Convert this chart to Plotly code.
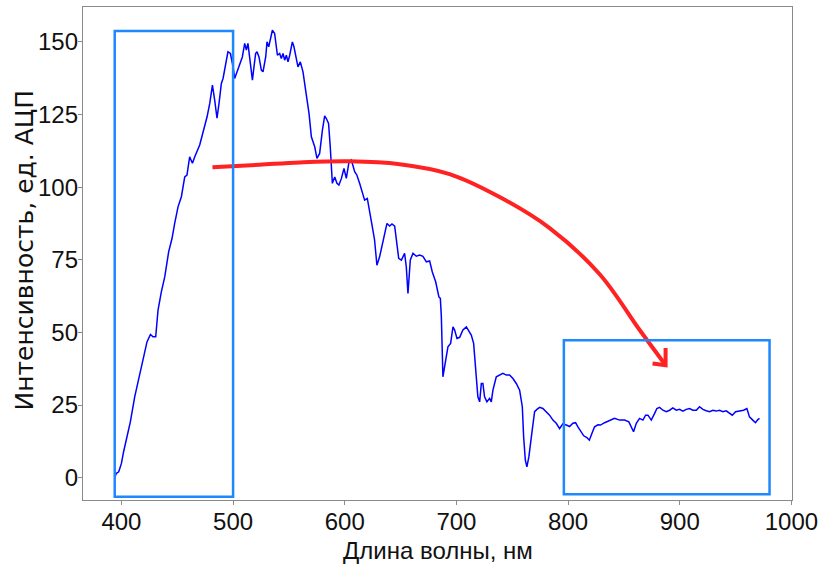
import plotly.graph_objects as go

# Spectrum: wavelength (nm) and ADC intensity
wavelength = [
    394.0, 395.5, 397.6, 400.0, 402.0, 404.5, 408.0, 411.9, 415.8, 418.4,
    420.9, 422.9, 426.0, 428.3, 430.7, 432.8, 435.8, 438.8, 442.3, 445.3,
    447.7, 450.7, 453.7, 456.7, 458.7, 461.1, 463.6, 465.6, 470.1, 473.1,
    476.7, 479.1, 481.5, 483.5, 485.6, 487.4, 489.5, 491.0, 493.4, 495.4,
    497.6, 500.0, 501.4, 503.5, 505.9, 508.3, 510.4, 511.9, 513.3, 515.5,
    517.3, 518.7, 520.2, 521.4, 523.2, 525.3, 526.8, 529.2, 530.4, 531.9,
    533.4, 535.2, 537.2, 538.8, 539.7, 541.7, 543.2, 544.7, 546.2, 547.7,
    549.2, 550.7, 552.2, 553.1, 554.5, 556.7, 558.1, 560.2, 562.6, 565.6,
    568.0, 570.1, 573.1, 575.1, 577.5, 580.0, 582.0, 583.5, 585.5, 587.0,
    588.0, 588.9, 591.0, 593.0, 594.8, 597.0, 599.3, 601.4, 603.8, 605.9,
    608.9, 610.9, 613.3, 615.4, 617.8, 620.2, 622.3, 624.7, 626.7, 628.8,
    631.2, 633.7, 635.7, 637.8, 640.2, 642.3, 644.7, 646.2, 648.3, 650.7,
    653.6, 655.1, 656.6, 658.7, 661.1, 664.1, 667.1, 670.0, 673.1, 676.0,
    678.4, 681.4, 684.3, 685.6, 686.5, 687.9, 690.1, 692.4, 694.8, 696.9,
    698.4, 700.5, 702.9, 705.8, 708.9, 711.2, 713.3, 715.4, 717.2, 719.2,
    720.8, 722.3, 723.7, 725.2, 727.3, 729.7, 731.2, 732.7, 735.7, 738.7,
    741.6, 744.7, 747.6, 750.6, 753.6, 756.6, 759.0, 760.2, 761.7, 763.1,
    764.9, 767.1, 768.5, 770.0, 772.1, 774.5, 777.4, 780.5, 783.4, 786.4,
    789.4, 792.4, 795.3, 798.4, 801.3, 804.3, 806.7, 808.8, 811.8, 814.0,
    816.8, 819.0, 821.3, 823.7, 826.7, 829.0, 832.7, 837.2, 841.6, 846.1,
    850.6, 854.4, 856.6, 858.6, 861.1, 864.0, 867.0, 869.4, 871.5, 874.5,
    877.5, 879.5, 881.9, 884.9, 887.9, 890.9, 893.8, 896.9, 899.8, 902.8,
    905.8, 908.8, 911.7, 914.8, 917.7, 920.7, 923.7, 926.7, 929.6, 932.7,
    935.6, 938.6, 941.6, 944.6, 947.0, 950.0, 953.5, 957.1, 960.1, 962.4,
    965.4, 967.8, 969.9, 971.4,
]
intensity = [
    0.1, 1.5, 2.0, 4.9, 9.0, 13.5, 19.2, 27.8, 34.7, 39.3,
    43.3, 46.7, 49.3, 48.5, 48.5, 57.7, 64.0, 69.1, 77.7, 82.3,
    87.5, 93.2, 96.7, 103.5, 104.1, 110.4, 108.2, 110.4, 114.5, 118.5,
    124.2, 128.8, 135.1, 130.0, 123.7, 128.8, 135.7, 137.4, 142.6, 146.6,
    146.0, 141.4, 137.4, 139.7, 142.6, 144.8, 149.5, 147.2, 149.5, 142.6,
    136.8, 141.4, 146.0, 146.6, 144.8, 140.3, 139.7, 144.8, 150.0, 148.3,
    150.6, 154.0, 152.9, 148.3, 145.4, 146.0, 144.3, 146.0, 143.7, 145.4,
    143.1, 145.4, 147.7, 150.0, 148.3, 144.3, 141.4, 143.1, 139.7, 131.7,
    125.4, 117.3, 113.9, 109.9, 111.6, 119.6, 124.5, 123.6, 121.9, 114.0,
    108.2, 101.3, 103.5, 101.3, 100.7, 103.0, 106.4, 103.0, 108.7, 109.3,
    105.3, 104.1, 101.3, 98.4, 95.5, 96.1, 92.1, 86.3, 81.8, 73.1,
    76.0, 80.6, 84.1, 87.5, 86.6, 87.3, 86.6, 81.8, 75.5, 74.9,
    77.2, 72.6, 63.4, 74.9, 77.2, 76.2, 76.6, 76.2, 74.3, 74.6,
    70.8, 67.4, 62.2, 61.7, 55.4, 34.7, 40.4, 45.0, 46.2, 51.9,
    50.8, 47.9, 48.3, 50.8, 51.9, 50.2, 49.1, 46.2, 38.1, 27.8,
    26.1, 32.4, 32.4, 27.8, 26.1, 27.3, 26.1, 30.1, 34.7, 35.3,
    35.9, 35.3, 35.3, 34.1, 32.4, 30.1, 24.4, 14.0, 6.0, 3.7,
    7.2, 14.0, 17.5, 22.7, 23.5, 24.2, 23.8, 22.5, 21.5, 19.8,
    18.7, 16.9, 18.5, 18.1, 17.6, 18.7, 18.9, 17.5, 15.8, 14.4,
    13.8, 12.9, 15.2, 17.5, 18.2, 18.1, 18.9, 19.6, 20.4, 19.8,
    19.8, 19.2, 17.5, 15.8, 18.7, 20.4, 19.8, 21.5, 21.5, 19.8,
    22.1, 23.8, 24.2, 23.2, 22.7, 23.2, 24.0, 23.2, 23.5, 22.9,
    23.5, 23.8, 23.2, 23.2, 24.4, 23.5, 23.0, 22.7, 23.2, 22.9,
    23.2, 22.7, 23.0, 22.1, 21.5, 22.7, 22.9, 23.2, 23.8, 20.9,
    19.8, 18.9, 20.0, 20.4,
]

# Highlighted spectral regions: (x0, x1, y0, y1) in data units
regions = [(394.0, 500.0, -6.6, 153.7), (796.2, 980.4, -5.7, 47.3)]

x_ticks = [400, 500, 600, 700, 800, 900, 1000]
y_ticks = [0, 25, 50, 75, 100, 125, 150]

label_font = "Liberation Sans, Arial, sans-serif"
box_blue = "rgb(30,136,255)"
arrow_red = "rgb(255,34,34)"
spine = "#8a8a8a"
ink = "#111111"

fig = go.Figure()

fig.add_trace(go.Scatter(
    x=wavelength, y=intensity, mode="lines",
    line=dict(color="#0000ff", width=1.5),
    hoverinfo="skip", showlegend=False,
))

# Curved arrow from the visible region towards the near-IR region
arrow_x = [481.5, 523.8, 559.6, 604.4, 649.2, 693.9, 738.7, 783.5, 828.3, 864.1, 887.3]
arrow_y = [106.8, 107.7, 108.5, 108.9, 107.9, 104.5, 96.6, 85.9, 70.0, 50.8, 38.7]
fig.add_trace(go.Scatter(
    x=arrow_x, y=arrow_y, mode="lines",
    line=dict(color=arrow_red, width=4, shape="spline", smoothing=1.0),
    hoverinfo="skip", showlegend=False,
))
fig.add_shape(
    type="path", xref="x", yref="y",
    path="M 875.6,39.3 L 887.3,38.7 L 887.3,44.6",
    line=dict(color=arrow_red, width=4),
)

for x0, x1, y0, y1 in regions:
    fig.add_shape(
        type="rect", xref="x", yref="y", x0=x0, x1=x1, y0=y0, y1=y1,
        line=dict(color=box_blue, width=2.5), fillcolor="rgba(0,0,0,0)",
    )

axis_common = dict(
    showgrid=False, zeroline=False, showline=True, mirror=True,
    linecolor=spine, linewidth=1.3, ticks="outside", ticklen=4,
    tickcolor=spine, tickwidth=1.2, automargin=False,
    ticklabeloverflow="allow",
    tickfont=dict(family=label_font, size=24, color=ink),
)

# Axis titles
fig.add_annotation(
    text="Интенсивность, ед. АЦП", textangle=-90,
    xref="paper", yref="paper", x=0, y=0.5, xanchor="center", yanchor="middle",
    xshift=-59, yshift=3, showarrow=False,
    font=dict(family="DejaVu Sans", size=25, color=ink),
)
fig.add_annotation(
    text="Длина волны, нм",
    xref="paper", yref="paper", x=0.5, y=0, xanchor="center", yanchor="middle",
    yshift=-50, showarrow=False,
    font=dict(family=label_font, size=24, color=ink),
)

fig.update_layout(
    width=819, height=567,
    margin=dict(l=83, r=27, t=7, b=67),
    paper_bgcolor="white", plot_bgcolor="white",
    xaxis=dict(range=[365.6, 1000.5], tickvals=x_ticks, ticklabelstandoff=-4, **axis_common),
    yaxis=dict(range=[-7.7, 162.0], tickvals=y_ticks, ticklabelstandoff=-5, **axis_common),
)

fig.write_html("out.html")
